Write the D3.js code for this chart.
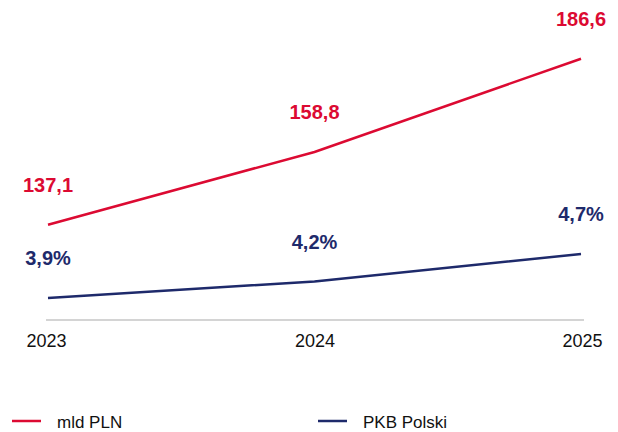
<!DOCTYPE html>
<html>
<head>
<meta charset="utf-8">
<script src="https://cdn.jsdelivr.net/npm/d3@7"></script>
<style>
  body { margin: 0; background: #fff; }
  svg { display: block; font-family: "Liberation Sans", Arial, sans-serif; }
</style>
</head>
<body>
<div id="chart"></div>
<script>
const width = 618;
const height = 432;

const years = ["2023", "2024", "2025"];
const mldPln = [137.1, 158.8, 186.6];
const pkbShare = [3.9, 4.2, 4.7];
const seriesNames = ["mld PLN", "PKB Polski"];

const red = "#dc0a32";
const navy = "#1e2a6b";

const svg = d3.select("#chart")
  .append("svg")
  .attr("width", width)
  .attr("height", height);

const x = d3.scalePoint()
  .domain(years)
  .range([48, 581]);

// two independent value scales, one per series
const yRed = d3.scaleLinear()
  .domain([100, 200])
  .range([349.1, 13.8]);

const yBlue = d3.scaleLinear()
  .domain([3, 5])
  .range([347.5, 237.5]);

const fmt = d3.formatLocale({ decimal: ",", thousands: " ", grouping: [3], currency: ["", ""] });
const f1 = fmt.format(".1f");

// baseline
svg.append("line")
  .attr("x1", 46).attr("x2", 584)
  .attr("y1", 320).attr("y2", 320)
  .attr("stroke", "#c6c6c6")
  .attr("stroke-width", 1.5);

// x axis labels
const xAxis = svg.append("g")
  .attr("transform", "translate(0,320)")
  .call(d3.axisBottom(x).tickSize(0).tickPadding(14));
xAxis.select(".domain").remove();
xAxis.selectAll("text")
  .attr("font-family", "Liberation Sans, Arial, sans-serif")
  .attr("font-size", 18)
  .attr("fill", "#111")
  .attr("dx", (d, i) => i === 0 ? -2 : (i === 2 ? 1 : 0));

const line = yScale => d3.line()
  .x((d, i) => x(years[i]))
  .y(d => yScale(d));

svg.append("path")
  .datum(mldPln)
  .attr("d", line(yRed))
  .attr("fill", "none")
  .attr("stroke", red)
  .attr("stroke-width", 2.5);

svg.append("path")
  .datum(pkbShare)
  .attr("d", line(yBlue))
  .attr("fill", "none")
  .attr("stroke", navy)
  .attr("stroke-width", 2.5);

// value labels
svg.selectAll(".lbl-red")
  .data(mldPln)
  .join("text")
  .attr("class", "lbl-red")
  .attr("x", (d, i) => x(years[i]))
  .attr("y", d => yRed(d) - 33)
  .attr("text-anchor", "middle")
  .attr("font-size", 20)
  .attr("font-weight", "bold")
  .attr("fill", red)
  .text(d => f1(d));

svg.selectAll(".lbl-blue")
  .data(pkbShare)
  .join("text")
  .attr("class", "lbl-blue")
  .attr("x", (d, i) => x(years[i]))
  .attr("y", d => yBlue(d) - 33)
  .attr("text-anchor", "middle")
  .attr("font-size", 20)
  .attr("font-weight", "bold")
  .attr("fill", navy)
  .text(d => f1(d) + "%");

// legend
const legend = svg.append("g");
const legendItems = legend.selectAll("g")
  .data(seriesNames)
  .join("g")
  .attr("transform", (d, i) => `translate(${i === 0 ? 12 : 318},421)`);

legendItems.append("line")
  .attr("x1", 0).attr("x2", 29)
  .attr("stroke", (d, i) => i === 0 ? red : navy)
  .attr("stroke-width", 2.5);

legendItems.append("text")
  .attr("x", 45)
  .attr("y", 7)
  .attr("font-size", 17)
  .attr("fill", "#111")
  .text(d => d);
</script>
</body>
</html>
